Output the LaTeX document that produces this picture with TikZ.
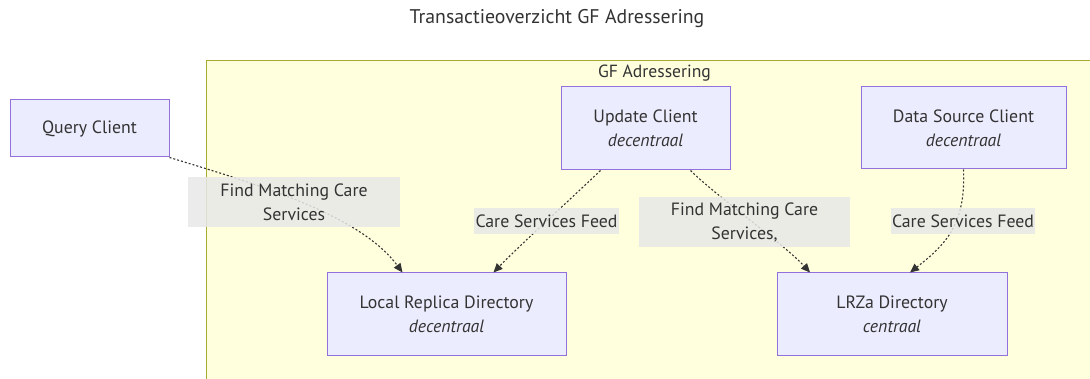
\documentclass[tikz,border=0pt]{standalone}
\usepackage{fontspec}
\setmainfont{PT Sans}
\usetikzlibrary{arrows.meta,positioning}
\definecolor{nodefill}{HTML}{ECECFF}
\definecolor{nodeline}{HTML}{9370DB}
\definecolor{groupfill}{HTML}{FFFFDE}
\definecolor{groupline}{HTML}{AAAA33}
\definecolor{ink}{HTML}{333333}
\definecolor{lblfill}{HTML}{E8E8E8}
\tikzset{
  actor/.style={draw=nodeline, fill=nodefill, line width=1pt, text=ink,
    align=center, font=\fontsize{17.8}{24}\selectfont, inner sep=0pt,
    minimum width=#1},
  actor/.default=160pt,
  flow/.style={draw=ink, line width=1.1pt, dash pattern=on 2pt off 2pt,
    -{Triangle[length=9pt,width=8pt]}},
  flowlabel/.style={fill=lblfill, fill opacity=0.85, text opacity=1, text=ink,
    align=center, font=\fontsize{17.8}{24}\selectfont, inner sep=0pt},
}
\begin{document}
\begin{tikzpicture}[x=1pt,y=-1pt]
\useasboundingbox (0,0) rectangle (1090,379);
% title
\node[text=ink, font=\fontsize{19.8}{24}\selectfont] (title) at (557,19) {Transactieoverzicht GF Adressering};
% group
\path[fill=groupfill, draw=groupline, line width=1pt] (206,61) rectangle (1100,400);
\node[text=ink, font=\fontsize{17.6}{20}\selectfont] (grp) at (654.5,73) {GF Adressering};
% nodes
\node[actor=159pt, minimum height=57pt] (qc) at (89.5,128.5) {Query Client};
\node[actor=169pt, minimum height=83pt] (uc) at (645.5,128.5) {Update Client\\\textit{decentraal}};
\node[actor=205pt, minimum height=82pt] (ds) at (963.5,128) {Data Source Client\\\textit{decentraal}};
\node[actor=239pt, minimum height=83pt] (lr) at (446.5,314.5) {Local Replica Directory\\\textit{decentraal}};
\node[actor=230pt, minimum height=83pt] (lz) at (892,314.5) {LRZa Directory\\\textit{centraal}};
% connector end points
\coordinate (lrA) at ([xshift=-44pt]lr.north);
\coordinate (lrB) at ([xshift=47pt]lr.north);
\coordinate (ucA) at ([xshift=-45pt]uc.south);
\coordinate (ucB) at ([xshift=45pt]uc.south);
\coordinate (lzA) at ([xshift=-82pt]lz.north);
\coordinate (lzB) at ([xshift=18pt]lz.north);
% connectors
\draw[flow] (qc.south east) .. controls (260,185) and (360,215) .. (lrA);
\draw[flow] (ucA) .. controls (575,195) and (520,245) .. (lrB);
\draw[flow] (ucB) .. controls (715,195) and (785,245) .. (lzA);
\draw[flow] (ds.south) .. controls (966,225) and (945,245) .. (lzB);
% connector labels
\node[flowlabel, minimum width=212pt, minimum height=50pt] (l1) at (294,202) {Find Matching Care\\Services};
\node[flowlabel, minimum width=145pt, minimum height=26pt] (l2) at (546.5,221) {Care Services Feed};
\node[flowlabel, minimum width=211pt, minimum height=50pt] (l3) at (744.5,222) {Find Matching Care\\Services,};
\node[flowlabel, minimum width=144pt, minimum height=26pt] (l4) at (963,221) {Care Services Feed};
\end{tikzpicture}
\end{document}
